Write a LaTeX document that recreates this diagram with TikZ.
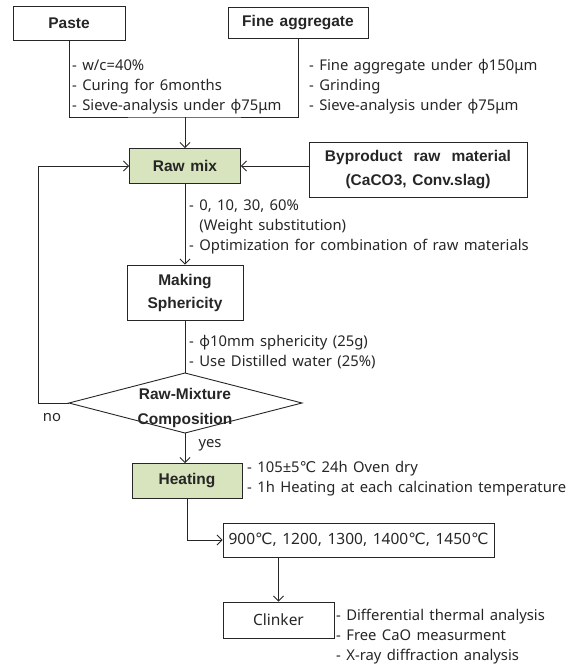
\documentclass[tikz,border=0pt]{standalone}
\usepackage{fontspec}
\setmainfont{Noto Sans}[WordSpace=1.4]
\newfontfamily\bff{Liberation Sans}[WordSpace=1.3]
\newfontfamily\symf{DejaVu Sans}
\usetikzlibrary{arrows.meta}
\definecolor{boxgreen}{HTML}{D7E4BD}
\definecolor{ink}{HTML}{262626}
\newcommand{\degc}{{\symf ℃}}
\begin{document}
\begin{tikzpicture}[x=1pt,y=-1pt,
  line/.style={draw=ink, line width=0.9pt},
  arr/.style={line, -{Straight Barb[length=5pt,width=10pt]}},
  bbox/.style={draw=ink, line width=0.9pt, font=\fontsize{15.5}{24}\selectfont\bff\bfseries, align=center, inner sep=0pt, text=ink},
  gbox/.style={bbox, fill=boxgreen},
  pbox/.style={draw=ink, line width=0.9pt, font=\fontsize{15.5}{20}\selectfont, inner sep=0pt, text=ink},
  note/.style={anchor=west, align=left, font=\fontsize{14.8}{20}\selectfont, inner sep=0pt, text=ink},
  lab/.style={font=\fontsize{14.8}{20}\selectfont, inner sep=0pt, text=ink},
]
\useasboundingbox (0,0) rectangle (576,672);
% boxes
\node[bbox, minimum width=112pt, minimum height=34pt] (paste) at (69,23) {Paste};
\node[bbox, minimum width=140pt, minimum height=31pt] (fine) at (298,22.5) {Fine aggregate};
\node[gbox, minimum width=111pt, minimum height=35pt] (raw) at (185,166) {Raw mix};
\node[bbox, minimum width=218pt, minimum height=55pt] (byp) at (418,169.5) {Byproduct\ \ raw\ \ material\\(CaCO3,\ Conv.slag)};
\node[bbox, minimum width=116pt, minimum height=55pt, font=\fontsize{15.5}{23}\selectfont\bff\bfseries] (mak) at (185,292.5) {Making\\Sphericity};
% decision diamond
\coordinate (dl) at (69,403);
\coordinate (dt) at (185,373);
\coordinate (dr) at (302,403);
\coordinate (db) at (185,433);
\draw[line] (dl) -- (dt) -- (dr) -- (db) -- cycle;
\node[align=center, inner sep=0pt, text=ink, font=\fontsize{15.5}{25}\selectfont\bff\bfseries] (dtx) at (185,408) {Raw-Mixture\\Composition};
\node[gbox, minimum width=110pt, minimum height=35pt] (heat) at (187,481) {Heating};
\node[pbox, minimum width=271pt, minimum height=34pt] (temp) at (358.5,540) {900\degc, 1200, 1300, 1400\degc, 1450\degc};
\node[pbox, minimum width=111pt, minimum height=36pt] (clk) at (278.5,620) {Clinker};
% notes
\node[note] (n1) at (72,87) {- w/c=40\%\\- Curing for 6months\\- Sieve-analysis under φ75μm};
\node[note] (n2) at (309,87) {- Fine aggregate under φ150μm\\- Grinding\\- Sieve-analysis under φ75μm};
\node[note] (n3) at (189,227) {- 0, 10, 30, 60\%\\\phantom{- }(Weight substitution)\\- Optimization for combination of raw materials};
\node[note] (n4) at (189,352) {- φ10mm sphericity (25g)\\- Use Distilled water (25\%)};
\node[note] (n5) at (247,479) {- 105±5\degc{} 24h Oven dry\\- 1h Heating at each calcination temperature};
\node[note] (n6) at (336,637) {- Differential thermal analysis\\- Free CaO measurment\\- X-ray diffraction analysis};
\node[lab] (no) at (52,418) {no};
\node[lab] (yes) at (210,445) {yes};
% connectors
\coordinate (brk) at (185,117);
\draw[line] (paste.south) |- (brk) -| (fine.south);
\draw[arr] (brk) -- (brk |- raw.north);
\draw[arr] (byp.west |- raw.east) -- (raw.east);
\draw[arr] (raw.south) -- (mak.north);
\draw[line] (mak.south) -- (dt);
\coordinate (fb) at (38,403);
\draw[arr] (dl) -- (fb) |- (raw.west);
\draw[arr] (db) -- (db |- heat.north);
\draw[arr] (heat.south) |- (temp.west);
\draw[arr] (clk.north |- temp.south) -- (clk.north);
\end{tikzpicture}
\end{document}
